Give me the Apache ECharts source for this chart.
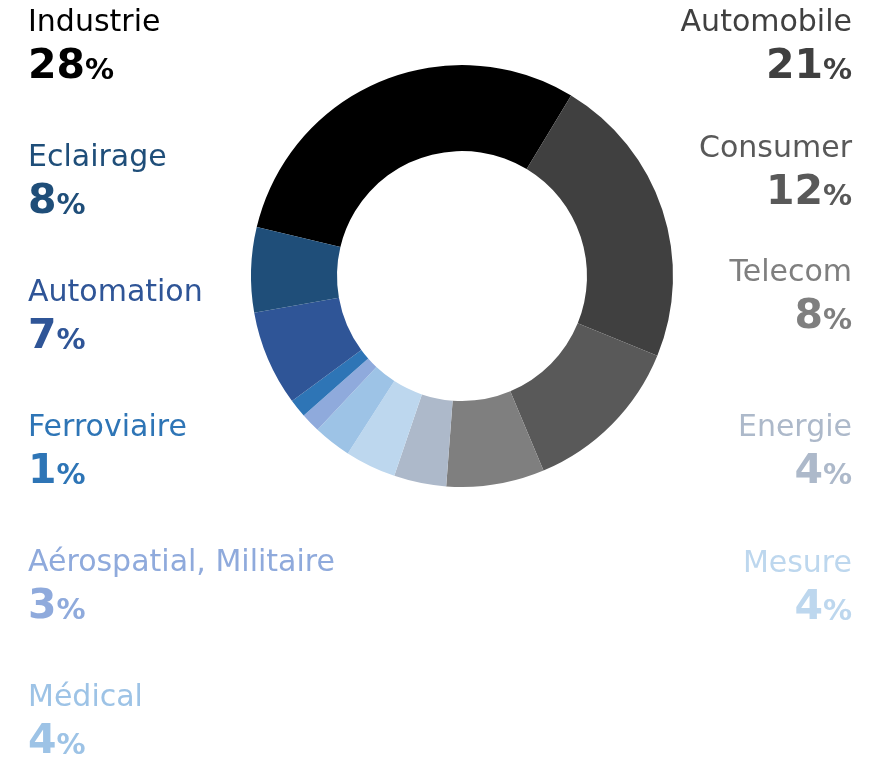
<!DOCTYPE html>
<html>
<head>
<meta charset="utf-8">
<script src="https://cdn.jsdelivr.net/npm/echarts@6/dist/echarts.min.js"></script>
<style>
  html, body { margin: 0; padding: 0; background: #fff; }
  #donut { width: 874px; height: 758px; }
</style>
</head>
<body>
<div id="donut"></div>
<script>
// secteurs, dans l'ordre du donut (sens horaire)
const sectors = ['Industrie', 'Automobile', 'Consumer', 'Telecom', 'Energie', 'Mesure',
  'Médical', 'Aérospatial, Militaire', 'Ferroviaire', 'Automation', 'Eclairage']
// pourcentages affichés
const printedPct = [28, 21, 12, 8, 4, 4, 4, 3, 1, 7, 8]
const sliceShare = [29.9, 22.5, 12.5, 7.5, 4.0, 3.9, 2.9, 1.5, 1.4, 7.3, 6.5]
const colors = ['#000000', '#404040', '#595959', '#7f7f7f', '#adb9ca', '#bdd7ee',
  '#9dc3e6', '#8faadc', '#2e75b6', '#2f5597', '#1f4e79']

// position des étiquettes : côté + ligne de base du nom
const labelSide = ['left', 'right', 'right', 'right', 'right', 'right', 'left', 'left', 'left', 'left', 'left']
const labelBase = [34, 34, 160, 284, 439, 575, 709, 574, 439, 304, 169]

const FONT = '"DejaVu Sans", sans-serif'
const NAME_SIZE = 30, NUM_SIZE = 41, PCT_SIZE = 29
const MID = 0.346 // écart baseline / middle pour DejaVu

let ctx = document.createElement('canvas').getContext('2d')
function textWidth (txt, size, weight) {
  ctx.font = weight + ' ' + size + 'px ' + FONT
  return ctx.measureText(txt).width
}

let graphics = []
sectors.forEach((name, i) => {
  let left = labelSide[i] === 'left'
  let x = left ? 28 : 852
  let base = labelBase[i]
  let numBase = base + 48
  let num = String(printedPct[i])
  let numW = textWidth(num, NUM_SIZE, 'bold')
  let pctW = textWidth('%', PCT_SIZE, 'bold')
  // nom
  graphics.push({
    type: 'text', x: x, y: base - MID * NAME_SIZE,
    style: { text: name, fill: colors[i], fontSize: NAME_SIZE, fontFamily: FONT,
      textAlign: left ? 'left' : 'right', textVerticalAlign: 'middle' }
  })
  // chiffre
  graphics.push({
    type: 'text', x: left ? x : x - pctW, y: numBase - MID * NUM_SIZE,
    style: { text: num, fill: colors[i], fontSize: NUM_SIZE, fontWeight: 'bold', fontFamily: FONT,
      textAlign: left ? 'left' : 'right', textVerticalAlign: 'middle' }
  })
  // signe %
  graphics.push({
    type: 'text', x: left ? x + numW : x, y: numBase - MID * PCT_SIZE,
    style: { text: '%', fill: colors[i], fontSize: PCT_SIZE, fontWeight: 'bold', fontFamily: FONT,
      textAlign: left ? 'left' : 'right', textVerticalAlign: 'middle' }
  })
})

let myChart = echarts.init(document.getElementById('donut'))

let opt = {
  animation: false,
  color: colors,
  graphic: graphics,
  series: [{
    type: 'pie',
    center: [462, 276],
    radius: [125, 211],
    startAngle: 166.6,
    clockwise: true,
    label: { show: false },
    labelLine: { show: false },
    itemStyle: { borderWidth: 0 },
    emphasis: { disabled: true },
    data: sectors.map((s, i) => ({ name: s, value: sliceShare[i] }))
  }]
}

myChart.setOption(opt)
</script>
</body>
</html>
